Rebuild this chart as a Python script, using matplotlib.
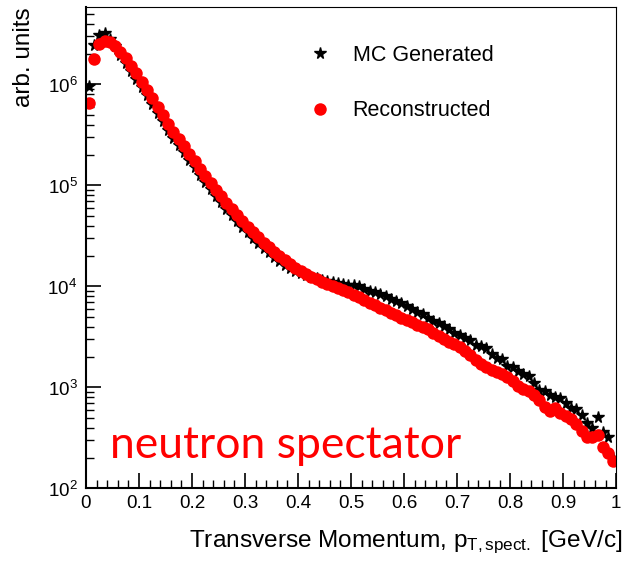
import numpy as np
import matplotlib as mpl
mpl.use('Agg')
import matplotlib.pyplot as plt
from matplotlib.ticker import MultipleLocator, LogLocator

# pT bin centres, 100 bins of 0.01 GeV/c
pt = np.arange(0.005, 1.0, 0.01)

# Reconstructed spectrum (red circles)
reco = [6.6e5, 1.8e6, 2.5e6, 2.72e6, 2.63e6, 2.42e6, 2.12e6, 1.82e6, 1.53e6, 1.29e6,
        1.07e6, 8.9e5, 7.3e5, 6.0e5, 4.95e5, 4.1e5, 3.4e5, 2.88e5, 2.45e5, 2.05e5,
        1.74e5, 1.46e5, 1.24e5, 1.05e5, 9.0e4, 7.8e4, 6.7e4, 5.8e4, 5.05e4, 4.45e4,
        3.92e4, 3.45e4, 3.06e4, 2.72e4, 2.44e4, 2.2e4, 1.99e4, 1.81e4, 1.66e4, 1.53e4,
        1.42e4, 1.33e4, 1.25e4, 1.18e4, 1.12e4, 1.07e4, 1.02e4, 9.7e3, 9.3e3, 8.9e3,
        8.3e3, 7.8e3, 7.3e3, 6.9e3, 6.5e3, 6.1e3, 5.8e3, 5.5e3, 5.2e3, 4.9e3,
        4.65e3, 4.4e3, 4.2e3, 3.95e3, 3.75e3, 3.5e3, 3.25e3, 3.05e3, 2.85e3, 2.7e3,
        2.5e3, 2.3e3, 2.1e3, 1.85e3, 1.72e3, 1.6e3, 1.5e3, 1.42e3, 1.35e3, 1.28e3,
        1.15e3, 1.03e3, 970, 930, 840, 760, 640, 590, 620, 560,
        520, 490, 430, 370, 320, 325, 340, 255, 225, 185]

# MC generated spectrum (black stars)
gen = [9.6e5, 2.45e6, 3.1e6, 3.25e6, 2.8e6, 2.38e6, 1.98e6, 1.62e6, 1.35e6, 1.13e6,
       9.4e5, 7.8e5, 6.4e5, 5.25e5, 4.3e5, 3.58e5, 2.97e5, 2.5e5, 2.13e5, 1.79e5,
       1.52e5, 1.28e5, 1.08e5, 9.2e4, 7.9e4, 6.8e4, 5.85e4, 5.05e4, 4.42e4, 3.9e4,
       3.44e4, 3.04e4, 2.7e4, 2.42e4, 2.18e4, 1.97e4, 1.8e4, 1.65e4, 1.53e4, 1.43e4,
       1.35e4, 1.29e4, 1.24e4, 1.2e4, 1.17e4, 1.14e4, 1.12e4, 1.09e4, 1.06e4, 1.03e4,
       1.04e4, 1.0e4, 9.5e3, 9.1e3, 8.8e3, 8.4e3, 8.0e3, 7.5e3, 7.1e3, 6.8e3,
       6.4e3, 6.0e3, 5.6e3, 5.3e3, 4.9e3, 4.6e3, 4.3e3, 4.05e3, 3.75e3, 3.5e3,
       3.3e3, 3.1e3, 2.95e3, 2.65e3, 2.55e3, 2.45e3, 2.15e3, 1.98e3, 1.9e3, 1.65e3,
       1.6e3, 1.45e3, 1.35e3, 1.3e3, 1.12e3, 950, 930, 850, 800, 790,
       700, 630, 610, 540, 450, 400, 510, 365, 320, 200]

plt.rcParams['font.family'] = ['Liberation Sans', 'DejaVu Sans']
plt.rcParams['mathtext.fontset'] = 'custom'
plt.rcParams['mathtext.rm'] = 'Liberation Sans'
plt.rcParams['mathtext.it'] = 'Liberation Sans:italic'

fig = plt.figure(figsize=(6.23, 5.68), dpi=100)
ax = fig.add_axes([0.138, 0.14, 0.851, 0.8477])

ax.plot(pt, gen, '*', color='black', ms=8.5, mec='black', label='MC Generated')
ax.plot(pt, reco, 'o', color='red', ms=9, mec='none', label='Reconstructed')

ax.set_yscale('log')
ax.set_xlim(0, 1)
ax.set_ylim(1e2, 5.85e6)

ax.xaxis.set_minor_locator(MultipleLocator(0.02))
ax.yaxis.set_major_locator(LogLocator(base=10))
ax.yaxis.set_minor_locator(LogLocator(base=10, subs=np.arange(2, 10)))
ax.set_xticks(np.arange(0, 1.01, 0.1))
ax.set_xticklabels(['0', '0.1', '0.2', '0.3', '0.4', '0.5', '0.6', '0.7', '0.8', '0.9', '1'])

ax.tick_params(which='both', direction='in', top=False, right=False, labelsize=13.6)
ax.tick_params(which='major', length=11, width=1.2)
ax.tick_params(which='minor', length=5.5, width=1.0)
ax.tick_params(axis='y', pad=6)
ax.tick_params(axis='x', pad=5)

for side in ['left', 'bottom']:
    ax.spines[side].set_linewidth(1.5)
for side in ['top', 'right']:
    ax.spines[side].set_linewidth(0.8)

ax.set_xlabel(r'Transverse Momentum, p$_{\mathrm{T,spect.}}$ [GeV/c]', fontsize=17.6, ha='right')
ax.xaxis.set_label_coords(1.012, -0.083)
ax.set_ylabel('arb. units', fontsize=17.5, ha='right')
ax.yaxis.set_label_coords(-0.096, 1.0)

ax.legend(loc='upper left', bbox_to_anchor=(0.385, 0.962), frameon=False, fontsize=15.5,
          numpoints=1, handlelength=1.0, handletextpad=1.0, labelspacing=1.6)

ax.text(0.045, 0.063, 'neutron spectator', transform=ax.transAxes, color='red',
        fontsize=32, family=['Lato', 'DejaVu Sans'])

plt.savefig('out.png', dpi=100)
